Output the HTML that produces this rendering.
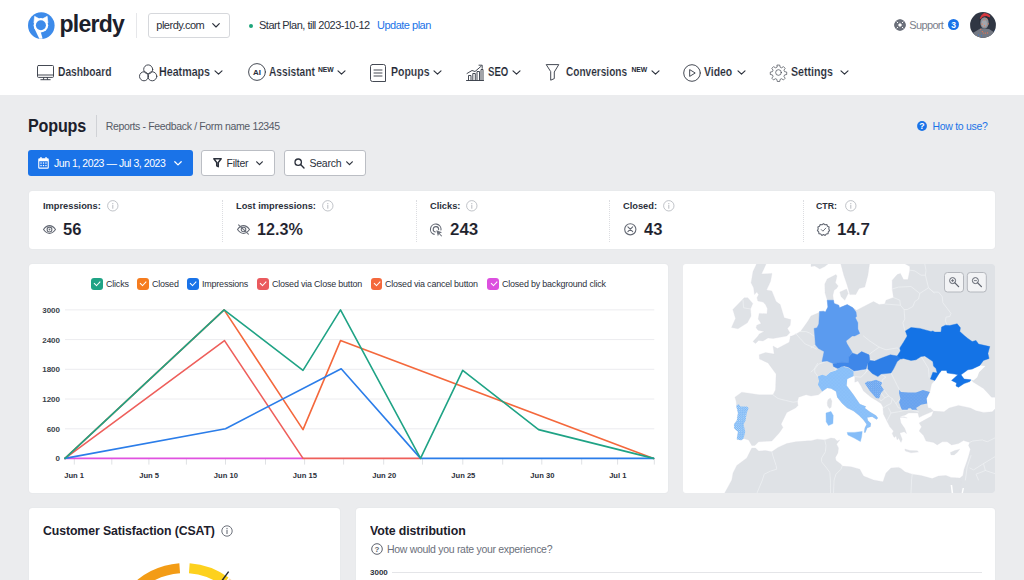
<!DOCTYPE html>
<html lang="en">
<head>
<meta charset="utf-8">
<title>Plerdy - Popups</title>
<style>
*{box-sizing:border-box;margin:0;padding:0}
html,body{width:1024px;height:580px;overflow:hidden;background:#ebecee;font-family:"Liberation Sans",Arial,sans-serif;color:#1f2532;-webkit-font-smoothing:antialiased}
.abs{position:absolute}
#top{position:absolute;left:0;top:0;width:1024px;height:95px;background:#fff}
.t{position:absolute;white-space:nowrap;line-height:1}
.nav{font-size:12px;font-weight:bold;color:#232834;letter-spacing:0;transform-origin:0 50%;-webkit-text-stroke:0.15px #fff}
.card{position:absolute;background:#fff;border-radius:3px;box-shadow:0 0 1px rgba(70,80,100,.13)}
svg{position:absolute;overflow:visible}
.ico{fill:none;stroke:#3b404b;stroke-width:0.95;stroke-linecap:round;stroke-linejoin:round}
.chev{fill:none;stroke:#2b303b;stroke-width:1.15;stroke-linecap:round;stroke-linejoin:round}

.dot{top:199.5px;width:0;height:42px;border-left:1px dotted #dcdde1}
.sl{top:200.7px;font-size:9.9px;font-weight:bold;color:#2b303b;letter-spacing:0;transform-origin:0 50%;transform:scaleX(0.94)}
.sv{top:222.3px;font-size:16px;font-weight:bold;color:#1c202b;letter-spacing:0;transform-origin:0 50%;transform:scaleX(1.035);-webkit-text-stroke:0.1px #fff}
.info circle{fill:none;stroke:#b9bcc2;stroke-width:0.9}
.info path{fill:none;stroke:#b9bcc2;stroke-width:1;stroke-linecap:round}

.cb{top:278px;width:11.6px;height:11.6px;border-radius:3px}
.cb:after{content:"";position:absolute;left:3.3px;top:3.1px;width:4.6px;height:2.5px;border-left:1.5px solid #fff;border-bottom:1.5px solid #fff;transform:rotate(-47deg)}
.lg{top:279px;font-size:9.5px;color:#2b303b;letter-spacing:-0.2px;transform-origin:0 50%;transform:scaleX(0.94)}
</style>
</head>
<body>
<div id="top">
  <!-- logo -->
  <svg style="left:28px;top:12px" width="27" height="27" viewBox="0 0 27 27">
    <circle cx="13.3" cy="13.6" r="13.3" fill="#3d8bea"/>
    <circle cx="12.9" cy="13.2" r="7.3" fill="#fff"/>
    <path d="M5.9 11 L6.6 4.3 L10.8 6.6 Z M19.9 11 L19.2 4.3 L15 6.6 Z" fill="#fff" stroke="#fff" stroke-width="0.6" stroke-linejoin="round"/>
    <path d="M6 15.5 L11.3 26.7 Q13 27 14.6 26.6 L12.3 18.5 Z" fill="#fff"/>
    <circle cx="12.9" cy="13.2" r="5" fill="#3d8bea"/>
  </svg>
  <div class="t" id="logo" style="left:59.5px;top:12.6px;font-size:23px;font-weight:bold;color:#1c202b;letter-spacing:-0.75px">plerdy</div>
  <div class="abs" style="left:136px;top:13px;width:1px;height:25px;background:#e6e7ea"></div>
  <!-- site select -->
  <div class="abs" style="left:148px;top:13px;width:82px;height:25px;border:1px solid #d6d8dc;border-radius:3px"></div>
  <div class="t" id="site" style="left:156.3px;top:20px;font-size:11px;color:#2b303b;letter-spacing:-0.5px">plerdy.com</div>
  <svg style="left:212px;top:23px" width="8" height="5" viewBox="0 0 8 5"><path class="chev" d="M0.7 0.7 L4 4 L7.3 0.7"/></svg>
  <div class="abs" style="left:249px;top:24px;width:4px;height:4px;border-radius:50%;background:#1da57a"></div>
  <div class="t" id="plan" style="left:259px;top:20px;font-size:11px;color:#2b303b;letter-spacing:-0.5px">Start Plan, till 2023-10-12</div>
  <div class="t" id="upd" style="left:377px;top:20px;font-size:11px;color:#1a73e8;letter-spacing:-0.5px">Update plan</div>
  <!-- support -->
  <svg style="left:893.5px;top:18.8px" width="12" height="12" viewBox="0 0 12 12">
    <circle cx="6" cy="6" r="3.8" fill="none" stroke="#6d727c" stroke-width="3.3"/>
    <path d="M1.6 1.6 L10.4 10.4 M10.4 1.6 L1.6 10.4" stroke="#fff" stroke-width="1"/>
    <circle cx="6" cy="6" r="5.3" fill="none" stroke="#646974" stroke-width="1.05"/>
    <circle cx="6" cy="6" r="2.3" fill="#fff" stroke="#646974" stroke-width="1.05"/>
  </svg>
  <div class="t" id="sup" style="left:909.3px;top:20px;font-size:11px;color:#7b808b;letter-spacing:-0.65px">Support</div>
  <div class="abs" style="left:948px;top:19px;width:11px;height:11px;border-radius:50%;background:#1a73e8"></div>
  <div class="t" style="left:948px;top:20.5px;width:11px;text-align:center;font-size:8.5px;font-weight:bold;color:#fff">3</div>
  <svg style="left:970px;top:11.5px" width="26" height="26" viewBox="0 0 26 26">
    <defs><clipPath id="av"><circle cx="13" cy="13" r="12.9"/></clipPath></defs>
    <g clip-path="url(#av)">
      <rect width="26" height="26" fill="#303643"/>
      <path d="M0.3 22.5 L10.7 16.3 L19 16.9 L25.2 21.1 L23.1 26 L3.8 26 Z" fill="#747984"/>
      <path d="M9.6 7.5 Q9.4 3.4 14.6 3 Q19.8 3.2 19.8 8 L19.4 13 L18 15 L11 15 L9.6 12 Z" fill="#262b36"/>
      <ellipse cx="14.5" cy="10.9" rx="4.2" ry="5.7" fill="#8d9199"/>
      <ellipse cx="14.3" cy="11.5" rx="2.6" ry="3.6" fill="#a3a6ad"/>
      <path d="M9.7 6.3 L11.4 3.2 L14.1 1.1 L17.6 1.8 L20.3 3.8 L19.7 5.4 L16.2 4 L12.8 4.7 L10.7 7 Z" fill="#d6363d"/>
      <g fill="#f0734f"><circle cx="14.1" cy="8" r="0.6"/><circle cx="16.6" cy="6.9" r="0.6"/><circle cx="18.3" cy="11.8" r="0.6"/><circle cx="14.5" cy="13.8" r="0.65"/><circle cx="12.1" cy="12.1" r="0.7"/><circle cx="10.7" cy="17.6" r="0.6"/><circle cx="12.4" cy="19.7" r="0.6"/><circle cx="13.8" cy="21.1" r="0.55"/><circle cx="15.5" cy="21.1" r="0.55"/><circle cx="17.6" cy="20.9" r="0.6"/></g>
      <g fill="#2b7de9"><circle cx="8.5" cy="23" r="0.6"/><circle cx="11.5" cy="23.8" r="0.6"/><circle cx="24.5" cy="19" r="0.5"/></g>
    </g>
  </svg>

  <!-- Dashboard -->
  <svg style="left:37px;top:65px" width="17" height="15" viewBox="0 0 17 15">
    <rect class="ico" x="0.5" y="0.5" width="16" height="11.9" rx="1"/>
    <path class="ico" d="M0.5 10 H16.5 M6.9 12.4 L6.4 14.4 M10.1 12.4 L10.6 14.4 M3.8 14.7 H13.2"/>
  </svg>
  <div class="t nav" id="n1" style="left:57.5px;top:66px;transform:scaleX(0.855)">Dashboard</div>
  <!-- Heatmaps -->
  <svg style="left:139px;top:64px" width="18" height="18" viewBox="0 0 18 18">
    <circle class="ico" cx="9.2" cy="5.4" r="4.5"/>
    <circle class="ico" cx="5" cy="12.3" r="4.5"/>
    <circle class="ico" cx="13.3" cy="12.3" r="4.5"/>
  </svg>
  <div class="t nav" id="n2" style="left:159.2px;top:66px;transform:scaleX(0.89)">Heatmaps</div>
  <svg style="left:214px;top:70px" width="9" height="5" viewBox="0 0 9 5"><path class="chev" d="M1 0.8 L4.5 4.2 L8 0.8"/></svg>
  <!-- Assistant -->
  <svg style="left:248px;top:63px" width="18" height="18" viewBox="0 0 18 18">
    <circle class="ico" cx="9" cy="9" r="8.4"/>
    <text x="9.1" y="11.9" text-anchor="middle" font-family="Liberation Sans,Arial,sans-serif" font-size="8" font-weight="bold" fill="#2b303b" letter-spacing="0.2">AI</text>
  </svg>
  <div class="t nav" id="n3" style="left:269px;top:66px;transform:scaleX(0.85)">Assistant</div>
  <div class="t" id="new1" style="left:318px;top:66.5px;font-size:6.8px;font-weight:bold;color:#232834;letter-spacing:-0.15px">NEW</div>
  <svg style="left:337px;top:70px" width="9" height="5" viewBox="0 0 9 5"><path class="chev" d="M1 0.8 L4.5 4.2 L8 0.8"/></svg>
  <!-- Popups -->
  <svg style="left:370px;top:64px" width="16" height="18" viewBox="0 0 16 18">
    <path class="ico" d="M2.5 0.5 H13.5 Q15.5 0.5 15.5 2.5 V17.5 H2.5 Q0.5 17.5 0.5 15.5 V2.5 Q0.5 0.5 2.5 0.5 Z"/>
    <path class="ico" d="M4 6 H12 M4 9 H12 M4 12 H12"/>
  </svg>
  <div class="t nav" id="n4" style="left:391.2px;top:66px;transform:scaleX(0.875)">Popups</div>
  <svg style="left:433px;top:70px" width="9" height="5" viewBox="0 0 9 5"><path class="chev" d="M1 0.8 L4.5 4.2 L8 0.8"/></svg>
  <!-- SEO -->
  <svg style="left:466px;top:64px" width="18" height="17" viewBox="0 0 18 17">
    <path class="ico" d="M0.5 16.5 H17.5 M2.5 16.5 V11.5 H5 V16.5 M6.8 16.5 V9.5 H9.3 V16.5 M11 16.5 V7.5 H13.5 V16.5 M15 16.5 V5.5 H17 V16.5" stroke-width="0.7"/>
    <path class="ico" d="M1 9.5 L6 6.5 L9 7.5 L15.2 2.2 M13 1.2 H16.2 V4.4" stroke-width="0.9"/>
  </svg>
  <div class="t nav" id="n5" style="left:487.8px;top:66px;transform:scaleX(0.8)">SEO</div>
  <svg style="left:512px;top:70px" width="9" height="5" viewBox="0 0 9 5"><path class="chev" d="M1 0.8 L4.5 4.2 L8 0.8"/></svg>
  <!-- Conversions -->
  <svg style="left:546.3px;top:64px" width="13.4" height="17" viewBox="0 0 13.4 17">
    <path class="ico" d="M0.6 0.6 H12.8 L8.3 8 V14.6 L4.7 16.2 V8 Z"/>
  </svg>
  <div class="t nav" id="n6" style="left:566px;top:66px;transform:scaleX(0.84)">Conversions</div>
  <div class="t" id="new2" style="left:631.5px;top:66.5px;font-size:6.8px;font-weight:bold;color:#232834;letter-spacing:-0.15px">NEW</div>
  <svg style="left:650.5px;top:70px" width="9" height="5" viewBox="0 0 9 5"><path class="chev" d="M1 0.8 L4.5 4.2 L8 0.8"/></svg>
  <!-- Video -->
  <svg style="left:683px;top:63.5px" width="18" height="18" viewBox="0 0 18 18">
    <circle class="ico" cx="9" cy="9" r="8.3"/>
    <path class="ico" d="M7 5.8 L12.2 9 L7 12.2 Z"/>
  </svg>
  <div class="t nav" id="n7" style="left:704.3px;top:66px;transform:scaleX(0.87)">Video</div>
  <svg style="left:737px;top:70px" width="9" height="5" viewBox="0 0 9 5"><path class="chev" d="M1 0.8 L4.5 4.2 L8 0.8"/></svg>
  <!-- Settings -->
  <svg style="left:769.8px;top:63.6px" width="17" height="17" viewBox="0 0 24 24">
    <circle class="ico" cx="12" cy="12" r="4" stroke-width="1.3"/>
    <path class="ico" stroke-width="1.3" d="M10.3 1.5 h3.4 l0.6 3 l2.1 0.9 l2.6 -1.7 l2.4 2.4 l-1.7 2.6 l0.9 2.1 l3 0.6 v3.4 l-3 0.6 l-0.9 2.1 l1.7 2.6 l-2.4 2.4 l-2.6 -1.7 l-2.1 0.9 l-0.6 3 h-3.4 l-0.6 -3 l-2.1 -0.9 l-2.6 1.7 l-2.4 -2.4 l1.7 -2.6 l-0.9 -2.1 l-3 -0.6 v-3.4 l3 -0.6 l0.9 -2.1 l-1.7 -2.6 l2.4 -2.4 l2.6 1.7 l2.1 -0.9 z"/>
  </svg>
  <div class="t nav" id="n8" style="left:791px;top:66px;transform:scaleX(0.885)">Settings</div>
  <svg style="left:840px;top:70px" width="9" height="5" viewBox="0 0 9 5"><path class="chev" d="M1 0.8 L4.5 4.2 L8 0.8"/></svg>

</div>

<!-- heading -->
<div class="t" id="h1" style="left:28.4px;top:116.9px;font-size:18px;font-weight:bold;color:#1c202b;letter-spacing:-0.2px;transform-origin:0 50%;transform:scaleX(0.895)">Popups</div>
<div class="abs" style="left:96px;top:114.5px;width:1px;height:22px;background:#d0d2d6"></div>
<div class="t" id="bc" style="left:105.7px;top:120.5px;font-size:10.5px;color:#555a66;letter-spacing:-0.35px">Reports - Feedback / Form name 12345</div>
<svg style="left:917.3px;top:120.8px" width="10" height="10" viewBox="0 0 10 10"><circle cx="5" cy="5" r="4.9" fill="#1a73e8"/><text x="5" y="8.2" text-anchor="middle" font-family="Liberation Sans,Arial,sans-serif" font-size="8.8" font-weight="bold" fill="#fff">?</text></svg>
<div class="t" id="how" style="left:932.5px;top:120.5px;font-size:10.5px;color:#1a73e8;letter-spacing:-0.3px">How to use?</div>
<!-- buttons -->
<div class="abs" style="left:28.3px;top:150px;width:164.5px;height:25.8px;background:#1a73e8;border-radius:3px"></div>
<svg style="left:38px;top:157px" width="11" height="12" viewBox="0 0 11 12">
  <path d="M1.5 1.3 H9.5 Q10.8 1.3 10.8 2.6 V10.4 Q10.8 11.7 9.5 11.7 H1.5 Q0.2 11.7 0.2 10.4 V2.6 Q0.2 1.3 1.5 1.3 Z M1.3 4.2 V10.2 Q1.3 10.6 1.7 10.6 H9.3 Q9.7 10.6 9.7 10.2 V4.2 Z" fill="#fff" fill-rule="evenodd"/>
  <rect x="2.3" y="0" width="1.3" height="2.4" rx="0.5" fill="#fff"/><rect x="7.4" y="0" width="1.3" height="2.4" rx="0.5" fill="#fff"/>
  <g fill="#fff"><rect x="2.4" y="5.4" width="1.3" height="1.3"/><rect x="4.85" y="5.4" width="1.3" height="1.3"/><rect x="7.3" y="5.4" width="1.3" height="1.3"/><rect x="2.4" y="7.9" width="1.3" height="1.3"/><rect x="4.85" y="7.9" width="1.3" height="1.3"/><rect x="7.3" y="7.9" width="1.3" height="1.3"/></g>
</svg>
<div class="t" id="date" style="left:54px;top:157.5px;font-size:10.5px;color:#fff;letter-spacing:-0.45px">Jun 1, 2023 — Jul 3, 2023</div>
<svg style="left:174px;top:160.5px" width="8" height="5" viewBox="0 0 8 5"><path d="M0.8 0.8 L4 3.9 L7.2 0.8" fill="none" stroke="#fff" stroke-width="1.3" stroke-linecap="round" stroke-linejoin="round"/></svg>

<div class="abs" style="left:201px;top:150px;width:74px;height:25.6px;background:#fff;border:1px solid #bbbec4;border-radius:3px"></div>
<svg style="left:213px;top:158px" width="9" height="10" viewBox="0 0 9 10"><path d="M0.8 0.8 H8.2 L5.3 4.5 V8.7 L3.7 7.8 V4.5 Z" fill="none" stroke="#2b303b" stroke-width="1.45" stroke-linejoin="round"/></svg>
<div class="t" id="flt" style="left:226.5px;top:157.5px;font-size:10.5px;color:#2b303b;letter-spacing:-0.25px">Filter</div>
<svg style="left:256px;top:160.5px" width="7" height="5" viewBox="0 0 7 5"><path d="M0.7 0.8 L3.5 3.7 L6.3 0.8" fill="none" stroke="#2b303b" stroke-width="1.2" stroke-linecap="round" stroke-linejoin="round"/></svg>

<div class="abs" style="left:283.5px;top:150px;width:82px;height:25.6px;background:#fff;border:1px solid #bbbec4;border-radius:3px"></div>
<svg style="left:294px;top:157.5px" width="11" height="11" viewBox="0 0 11 11"><circle cx="4.2" cy="4.2" r="3.2" fill="none" stroke="#2b303b" stroke-width="1.3"/><path d="M6.6 6.6 L10 10" stroke="#2b303b" stroke-width="1.4" stroke-linecap="round"/></svg>
<div class="t" id="srch" style="left:309.5px;top:157.5px;font-size:10.5px;color:#2b303b;letter-spacing:-0.25px">Search</div>
<svg style="left:346px;top:160.5px" width="7" height="5" viewBox="0 0 7 5"><path d="M0.7 0.8 L3.5 3.7 L6.3 0.8" fill="none" stroke="#2b303b" stroke-width="1.2" stroke-linecap="round" stroke-linejoin="round"/></svg>

<!-- stats -->
<div class="card" style="left:29px;top:191px;width:966px;height:58px"></div>
<div class="abs dot" style="left:222px"></div><div class="abs dot" style="left:415.5px"></div><div class="abs dot" style="left:609px"></div><div class="abs dot" style="left:802.5px"></div>

<div class="t sl" id="s1" style="left:43px">Impressions:</div>
<svg class="info" style="left:107.4px;top:199.8px" width="11.6" height="11.6" viewBox="0 0 11.6 11.6"><circle cx="5.8" cy="5.8" r="5.2"/><path d="M5.8 5.2 V8.3 M5.8 3.4 V3.7"/></svg>
<svg style="left:43px;top:225px" width="13" height="9" viewBox="0 0 13 9"><path d="M0.5 4.5 Q3.2 0.6 6.5 0.6 Q9.8 0.6 12.5 4.5 Q9.8 8.4 6.5 8.4 Q3.2 8.4 0.5 4.5 Z" fill="none" stroke="#646974" stroke-width="1.05"/><circle cx="6.5" cy="4.5" r="2.4" fill="none" stroke="#646974" stroke-width="1.05"/><circle cx="6.5" cy="4.5" r="0.9" fill="#6d727c"/></svg>
<div class="t sv" id="v1" style="left:63.4px">56</div>

<div class="t sl" id="s2" style="left:236.3px">Lost impressions:</div>
<svg class="info" style="left:322.4px;top:199.8px" width="11.6" height="11.6" viewBox="0 0 11.6 11.6"><circle cx="5.8" cy="5.8" r="5.2"/><path d="M5.8 5.2 V8.3 M5.8 3.4 V3.7"/></svg>
<svg style="left:237px;top:223.8px" width="13" height="11" viewBox="0 0 13 11"><path d="M0.5 5.5 Q3.2 1.6 6.5 1.6 Q9.8 1.6 12.5 5.5 Q9.8 9.4 6.5 9.4 Q3.2 9.4 0.5 5.5 Z" fill="none" stroke="#646974" stroke-width="1.05"/><circle cx="6.5" cy="5.5" r="2.3" fill="none" stroke="#646974" stroke-width="1.05"/><path d="M1.6 0.8 L11.4 10.2" stroke="#6d727c" stroke-width="1.1" stroke-linecap="round"/></svg>
<div class="t sv" id="v2" style="left:256.5px;transform:scaleX(1.01)">12.3%</div>

<div class="t sl" id="s3" style="left:429.7px">Clicks:</div>
<svg class="info" style="left:465.9px;top:199.8px" width="11.6" height="11.6" viewBox="0 0 11.6 11.6"><circle cx="5.8" cy="5.8" r="5.2"/><path d="M5.8 5.2 V8.3 M5.8 3.4 V3.7"/></svg>
<svg style="left:430px;top:223.5px" width="13" height="13" viewBox="0 0 13 13"><path d="M4.2 10.4 A5.3 5.3 0 1 1 11 6" fill="none" stroke="#646974" stroke-width="1.1" stroke-linecap="round"/><path d="M5.4 8 A2.7 2.7 0 1 1 8.6 5.6" fill="none" stroke="#646974" stroke-width="1.1" stroke-linecap="round"/><path d="M6.3 6.3 L12 8.3 L9.7 9.4 L12.2 12 L11.4 12.6 L9 10.1 L7.9 12.2 Z" fill="#6d727c"/></svg>
<div class="t sv" id="v3" style="left:450px;transform:scaleX(1.06)">243</div>

<div class="t sl" id="s4" style="left:623.2px">Closed:</div>
<svg class="info" style="left:662.9px;top:199.8px" width="11.6" height="11.6" viewBox="0 0 11.6 11.6"><circle cx="5.8" cy="5.8" r="5.2"/><path d="M5.8 5.2 V8.3 M5.8 3.4 V3.7"/></svg>
<svg style="left:624px;top:222.8px" width="13" height="13" viewBox="0 0 13 13"><circle cx="6.3" cy="6.3" r="5.6" fill="none" stroke="#646974" stroke-width="1.1"/><path d="M3.9 3.9 L8.7 8.7 M8.7 3.9 L3.9 8.7" stroke="#646974" stroke-width="1.1" stroke-linecap="round"/></svg>
<div class="t sv" id="v4" style="left:643.5px">43</div>

<div class="t sl" id="s5" style="left:816.3px;transform:scaleX(0.89)">CTR:</div>
<svg class="info" style="left:845.4px;top:199.8px" width="11.6" height="11.6" viewBox="0 0 11.6 11.6"><circle cx="5.8" cy="5.8" r="5.2"/><path d="M5.8 5.2 V8.3 M5.8 3.4 V3.7"/></svg>
<svg style="left:817px;top:223px" width="13" height="13" viewBox="0 0 13 13"><path d="M6.5 0.6 L8 1.7 L9.8 1.5 L10.5 3.2 L12.1 4.1 L11.8 5.9 L12.6 7.5 L11.3 8.8 L11.1 10.6 L9.3 11 L8.1 12.4 L6.5 11.6 L4.9 12.4 L3.7 11 L1.9 10.6 L1.7 8.8 L0.4 7.5 L1.2 5.9 L0.9 4.1 L2.5 3.2 L3.2 1.5 L5 1.7 Z" fill="none" stroke="#646974" stroke-width="1.1" stroke-linejoin="round"/><path d="M4.3 6.6 L5.9 8.2 L8.8 5.1" fill="none" stroke="#6d727c" stroke-width="1" stroke-linecap="round" stroke-linejoin="round"/></svg>
<div class="t sv" id="v5" style="left:837px;transform:scaleX(1.06)">14.7</div>

<div class="card" style="left:29px;top:264px;width:639px;height:229px"></div>
<svg style="left:0;top:0" width="1024" height="580" viewBox="0 0 1024 580">
  <g stroke="#ececef" stroke-width="1" fill="none">
    <path d="M65 309.9 H654.3 M65 339.6 H654.3 M65 369.3 H654.3 M65 399 H654.3 M65 428.8 H654.3"/>
  </g>
  <path d="M65 458.5 H654.3" stroke="#d9dbdf" stroke-width="1"/>
  <g stroke="#dfe1e4" stroke-width="1">
    <path d="M74.3 459 V464.6 M111.8 459 V464.6 M148.9 459 V464.6 M186.4 459 V464.6 M225.5 459 V464.6 M265.5 459 V464.6 M304.6 459 V464.6 M343.6 459 V464.6 M383.7 459 V464.6 M422.5 459 V464.6 M462.8 459 V464.6 M502.7 459 V464.6 M541.8 459 V464.6 M581.7 459 V464.6 M617.6 459 V464.6 M654.3 459 V464.6"/>
  </g>
  <g fill="none" stroke-width="1.6" stroke-linejoin="round" stroke-linecap="round">
    <path d="M65 458.4 H303" stroke="#e052e0"/>
    <path d="M65 458.4 L224.5 340.6 L303 458.4 H420.5" stroke="#ee5f5b"/>
    <path d="M65 458.4 L224.1 309.9 L303 429.6 L340.5 340.6 L653.6 458.4" stroke="#f4683c"/>
    <path d="M65 458.4 L225.5 428.7 L341.2 368.7 L420.5 458.4 H653.6" stroke="#2b7de9"/>
    <path d="M65 458.4 L224.1 309.9 L303 370.3 L340.5 309.9 L420.5 458.4 L462.7 370.3 L538.6 429.6 L653.6 458.4" stroke="#1fa385"/>
  </g>
  <g font-family="Liberation Sans,Arial,sans-serif" font-size="8" font-weight="bold" fill="#3a3f4a" text-anchor="end">
    <text x="60" y="312.8">3000</text><text x="60" y="342.5">2400</text><text x="60" y="372.2">1800</text><text x="60" y="401.9">1200</text><text x="60" y="431.7">600</text><text x="60" y="461.3">0</text>
  </g>
  <g font-family="Liberation Sans,Arial,sans-serif" font-size="7.6" font-weight="bold" fill="#2b303b" text-anchor="middle">
    <text x="74.1" y="477.8">Jun 1</text><text x="149.1" y="477.8">Jun 5</text><text x="225.9" y="477.8">Jun 10</text><text x="304.9" y="477.8">Jun 15</text><text x="384.2" y="477.8">Jun 20</text><text x="463.3" y="477.8">Jun 25</text><text x="542.4" y="477.8">Jun 30</text><text x="617.8" y="477.8">Jul 1</text>
  </g>
</svg>
<div class="abs cb" style="left:91px;background:#1fa385"></div><div class="t lg" id="l1" style="left:105.5px">Clicks</div>
<div class="abs cb" style="left:137px;background:#f57c1f"></div><div class="t lg" id="l2" style="left:151.5px">Closed</div>
<div class="abs cb" style="left:187px;background:#1a73e8"></div><div class="t lg" id="l3" style="left:201.5px">Impressions</div>
<div class="abs cb" style="left:257.2px;background:#ea5a5e"></div><div class="t lg" id="l4" style="left:271.8px">Closed via Close button</div>
<div class="abs cb" style="left:370.5px;background:#f4683c"></div><div class="t lg" id="l5" style="left:385px">Closed via cancel button</div>
<div class="abs cb" style="left:487.3px;background:#dc50df"></div><div class="t lg" id="l6" style="left:501.5px">Closed by background click</div>

<!-- MAPSTART -->
<svg style="left:0;top:0" width="1024" height="580" viewBox="0 0 1024 580">
<defs><clipPath id="mapclip"><rect x="683" y="264" width="312" height="229" rx="3"/></clipPath>
<pattern id="pit" width="3.4" height="3.4" patternUnits="userSpaceOnUse"><rect width="3.4" height="3.4" fill="#8cc2fa"/><circle cx="0.85" cy="0.85" r="0.5" fill="#7fb3f3"/><circle cx="2.55" cy="2.55" r="0.5" fill="#7fb3f3"/></pattern>
<pattern id="pba" width="2.2" height="2.2" patternUnits="userSpaceOnUse"><rect width="2.2" height="2.2" fill="#62a1ef"/><circle cx="0.55" cy="0.55" r="0.5" fill="#a5c8f6"/><circle cx="1.6500000000000001" cy="1.6500000000000001" r="0.5" fill="#a5c8f6"/></pattern>
<pattern id="pbg" width="3.2" height="3.2" patternUnits="userSpaceOnUse"><rect width="3.2" height="3.2" fill="#69a3ef"/><circle cx="0.8" cy="0.8" r="0.4" fill="#8bb8f3"/><circle cx="2.4000000000000004" cy="2.4000000000000004" r="0.4" fill="#8bb8f3"/></pattern>
<pattern id="ppt" width="2.2" height="2.2" patternUnits="userSpaceOnUse"><rect width="2.2" height="2.2" fill="#6eb1f6"/><circle cx="0.55" cy="0.55" r="0.55" fill="#d6e9fc"/><circle cx="1.6500000000000001" cy="1.6500000000000001" r="0.55" fill="#d6e9fc"/></pattern>
</defs>
<g clip-path="url(#mapclip)">
<rect x="683" y="264" width="312" height="229" fill="#fff"/>
<g fill="#dfe2e6" stroke="#dfe2e6" stroke-width="0.3" stroke-linejoin="round">
<path d="M756.5 264.0 L753.0 271.5 L751.1 282.8 L753.6 287.8 L754.5 294.6 L756.8 292.1 L758.6 294.6 L757.0 297.8 L757.8 300.9 L763.0 302.1 L765.5 304.6 L767.4 308.4 L767.0 313.8 L759.2 313.4 L758.2 319.0 L761.1 323.4 L756.8 325.2 L756.1 327.8 L758.0 330.2 L764.2 331.5 L759.2 334.0 L758.0 336.0 L753.0 341.6 L755.5 343.5 L758.6 340.4 L763.0 341.0 L768.0 337.9 L773.0 338.5 L786.8 336.0 L789.9 332.8 L787.4 328.4 L790.2 325.2 L790.8 319.6 L784.2 317.8 L780.2 304.6 L776.1 301.5 L771.8 290.9 L766.5 290.0 L770.5 281.5 L772.0 273.4 L761.5 274.0 L766.1 264.0 Z"/>
<path d="M744.2 297.8 L747.8 297.8 L752.8 303.4 L750.5 309.0 L751.1 315.9 L747.4 322.8 L738.0 328.8 L731.5 327.5 L735.5 318.4 L732.8 309.6 Z"/>
<path d="M811.0 264.0 L827.9 264.0 L824.8 266.5 L819.8 269.0 L814.8 265.9 L811.0 266.5 Z"/>
<path d="M840.8 264.0 L843.8 275.2 L847.2 285.2 L849.8 294.6 L855.8 294.6 L859.1 288.4 L864.8 287.1 L867.9 275.2 L869.5 264.0 Z"/>
<path d="M839.8 292.1 L846.6 289.0 L848.2 293.4 L844.8 300.2 L841.0 296.5 Z"/>
<path d="M827.9 399.8 L830.4 397.9 L831.9 401.0 L831.2 407.2 L829.5 408.5 L827.6 406.0 L827.2 402.9 Z"/>
<path d="M904.8 449.0 L909.8 450.5 L917.2 450.8 L918.5 452.0 L911.0 452.8 L905.4 451.1 Z"/>
<path d="M950.4 452.4 L954.8 450.5 L959.8 449.2 L957.2 452.4 L954.1 454.9 L951.0 454.9 Z"/>
<path d="M791.8 336.0 L796.1 334.0 L800.5 331.5 L806.8 322.8 L808.0 320.9 L811.0 315.9 L818.5 312.8 L819.5 311.5 L823.5 311.2 L825.4 312.1 L827.9 307.1 L827.2 300.2 L825.0 292.8 L824.8 284.0 L827.2 279.0 L836.0 274.6 L837.0 275.9 L835.4 282.8 L838.2 285.9 L836.6 288.4 L834.1 290.2 L832.9 295.2 L833.5 300.2 L834.1 303.4 L838.8 305.2 L839.5 307.8 L847.2 304.6 L852.9 307.8 L856.6 310.2 L873.5 301.5 L879.1 304.6 L884.8 304.0 L886.0 300.2 L893.5 297.5 L892.2 289.0 L892.2 280.2 L897.2 274.6 L900.4 273.4 L903.5 279.6 L907.9 279.6 L909.8 270.2 L909.8 266.5 L905.4 264.0 L995.0 264.0 L995.0 397.2 L991.6 397.2 L983.5 388.5 L973.5 382.2 L971.0 379.8 L969.8 381.6 L964.1 383.5 L958.5 387.2 L956.0 386.0 L956.6 382.9 L951.6 380.4 L957.9 374.8 L954.8 374.1 L947.2 372.9 L946.6 370.4 L941.6 370.4 L939.1 373.5 L934.8 380.4 L931.6 384.1 L929.8 392.2 L926.6 398.5 L927.2 403.5 L928.2 408.0 L930.4 408.0 L933.5 411.1 L922.9 415.5 L919.1 417.4 L917.9 413.0 L908.5 413.0 L905.4 414.9 L899.8 416.8 L907.2 418.0 L904.1 416.8 L899.8 417.4 L901.0 423.0 L904.8 428.6 L906.6 433.6 L904.1 431.8 L899.8 433.0 L902.2 439.2 L901.0 442.4 L898.5 438.0 L897.2 439.9 L896.0 436.1 L894.1 437.4 L892.2 433.6 L893.5 431.1 L889.8 426.8 L886.0 419.2 L883.5 414.2 L882.9 408.0 L883.5 408.0 L881.0 403.5 L877.2 401.0 L871.0 397.2 L863.5 391.0 L861.0 386.0 L857.9 381.0 L854.8 382.2 L854.8 376.6 L853.5 376.0 L847.2 379.1 L846.6 385.4 L853.5 394.8 L859.8 404.1 L866.0 406.6 L864.8 408.0 L864.8 408.0 L869.8 411.8 L876.0 415.5 L877.9 418.0 L876.6 419.5 L872.2 416.8 L867.2 417.4 L867.9 420.5 L871.0 423.6 L870.4 426.8 L867.2 428.0 L865.4 432.4 L864.1 432.4 L864.8 428.0 L866.6 424.2 L863.5 419.9 L859.1 415.5 L853.5 411.1 L847.2 408.0 L847.2 408.0 L842.2 403.5 L837.2 397.2 L836.0 391.6 L831.0 388.5 L827.2 387.9 L822.2 391.6 L818.5 394.8 L811.0 396.0 L806.1 394.8 L798.6 397.2 L797.4 401.6 L798.0 405.4 L795.5 408.0 L786.8 412.4 L781.1 424.2 L783.0 427.4 L779.2 433.0 L771.8 441.1 L758.6 441.8 L754.9 445.5 L751.8 445.5 L748.6 439.9 L743.6 438.6 L741.1 440.2 L736.8 439.2 L738.0 431.8 L734.2 428.6 L734.0 424.2 L736.8 420.5 L738.0 413.0 L736.8 408.0 L736.1 401.0 L734.9 397.2 L741.8 392.2 L759.2 394.8 L773.0 394.8 L775.5 389.8 L776.1 374.1 L768.0 362.9 L759.5 359.1 L759.2 354.8 L765.5 352.5 L774.2 354.1 L773.0 346.0 L777.4 348.5 L789.2 342.2 L790.5 336.0 Z"/>
<path d="M933.5 411.1 L944.1 411.8 L949.1 408.0 L958.5 405.4 L970.4 408.0 L976.0 410.8 L983.5 412.4 L992.2 411.8 L994.8 409.2 L995.0 409.0 L995.0 493.0 L960.0 493.0 L959.7 478.3 L962.9 475.5 L964.1 469.2 L967.2 460.5 L969.1 454.2 L970.4 449.2 L968.5 445.5 L969.8 442.4 L963.5 440.5 L958.5 443.6 L951.6 444.9 L947.2 441.8 L942.2 441.8 L937.2 444.9 L933.5 442.4 L926.0 441.1 L923.5 435.5 L919.1 431.1 L921.6 426.8 L919.1 423.0 L931.6 416.1 Z"/>
<path d="M724.7 493.0 L731.8 480.0 L733.0 473.0 L736.8 465.5 L746.8 458.0 L749.9 451.8 L751.8 448.0 L755.5 448.0 L758.6 451.1 L765.5 450.5 L771.8 451.8 L778.0 447.4 L786.8 443.6 L795.5 441.8 L808.0 440.8 L811.0 440.8 L817.2 439.2 L824.8 439.9 L831.0 438.0 L834.8 438.6 L837.2 441.1 L839.8 439.9 L836.6 444.2 L838.5 448.0 L837.9 453.0 L835.4 457.4 L836.0 460.5 L841.0 464.2 L842.2 466.1 L851.0 466.8 L859.8 469.2 L863.5 476.1 L873.5 480.0 L883.0 481.7 L886.0 473.0 L891.0 468.0 L898.5 467.4 L901.0 468.6 L904.8 471.8 L912.2 474.2 L921.0 475.5 L932.2 478.6 L938.5 476.1 L946.0 475.5 L951.0 477.4 L959.8 478.0 L961.0 480.0 L960.0 493.0 Z"/>
</g>
<g fill="#fff">
<path d="M961.0 374.8 L967.9 369.8 L972.2 369.1 L979.8 365.4 L985.4 366.0 L979.1 372.2 L977.2 377.2 L973.5 380.4 L971.0 379.8 L964.1 379.1 Z"/>
<path d="M950.6 485.0 L952.2 485.0 L953.2 493.0 L951.6 493.0 Z"/>
<path d="M962.6 488.0 L964.0 488.0 L963.0 493.0 L961.6 493.0 Z"/>
</g>
<g fill="none" stroke="#eef0f2" stroke-width="0.8" stroke-linejoin="round" stroke-linecap="round">
<path d="M743.0 300.2 L743.6 307.8 L750.5 309.0"/>
<path d="M773.0 394.8 L778.0 398.5 L785.5 400.4 L793.0 402.2 L797.4 401.6"/>
<path d="M771.8 451.8 L773.6 458.0 L776.1 465.5 L776.8 469.2 L770.5 471.1 L764.2 474.2 L762.4 480.0 L757.0 493.0"/>
<path d="M824.8 439.9 L826.0 445.5 L825.4 451.8 L821.6 458.0 L821.6 461.8 L826.6 468.0 L829.8 472.4 L830.4 480.0 L830.5 493.0"/>
<path d="M842.2 466.1 L841.0 469.2 L836.0 474.2 L834.1 480.0 L833.5 493.0"/>
<path d="M912.2 474.2 L911.6 480.0 L911.0 493.0"/>
<path d="M884.8 304.0 L900.4 305.2"/>
<path d="M893.5 297.5 L899.8 300.2 L900.4 305.2 L904.1 309.6"/>
<path d="M892.2 289.0 L898.5 287.1 L911.0 286.5 L919.8 293.4 L918.5 299.0 L914.8 301.5 L912.9 306.5 L907.2 309.6 L904.1 309.6"/>
<path d="M909.8 270.2 L914.8 270.9 L921.0 275.2 L925.4 275.2 L928.5 287.8 L919.8 293.4"/>
<path d="M925.4 275.2 L926.0 270.2 L924.8 264.0"/>
<path d="M929.1 288.4 L933.5 292.1 L938.5 292.1 L942.2 296.5 L942.9 302.8 L951.0 313.4 L949.8 316.5 L946.0 317.1 L945.4 320.9 L947.2 325.2"/>
<path d="M928.5 287.8 L934.1 292.8"/>
<path d="M904.1 310.2 L904.8 319.0 L902.9 322.8 L904.8 330.2"/>
<path d="M856.6 316.5 L855.4 317.8 L857.9 322.8 L857.9 329.0 L859.8 333.4"/>
<path d="M863.5 336.0 L869.8 341.0 L879.1 347.2 L886.0 349.8 L897.2 347.9 L900.4 351.0"/>
<path d="M861.6 351.6 L869.1 354.8 L871.0 352.9 L879.1 347.2"/>
<path d="M869.8 360.4 L871.0 359.1 L874.8 361.0"/>
<path d="M921.6 357.2 L928.5 368.5 L929.1 377.2"/>
<path d="M891.0 372.9 L897.2 385.4 L899.1 389.1"/>
<path d="M854.1 371.6 L866.0 369.5 L867.9 369.8 L864.8 373.5 L861.0 377.2 L854.8 376.6"/>
<path d="M864.8 373.5 L867.9 369.1"/>
<path d="M881.0 374.1 L886.0 377.2 L882.2 379.8 L882.2 382.5"/>
<path d="M883.8 389.8 L888.5 396.0 L884.8 397.9 L881.0 392.9"/>
<path d="M879.1 398.5 L881.0 401.0 L884.8 397.9"/>
<path d="M888.5 396.0 L892.2 398.5 L896.0 403.5 L900.4 398.5"/>
<path d="M892.2 398.5 L891.0 403.5 L886.0 406.0 L883.5 408.0"/>
<path d="M896.0 403.5 L898.5 408.0 L898.5 408.0 L904.1 408.0"/>
<path d="M888.5 408.0 L891.0 413.0 L887.2 420.5"/>
<path d="M891.0 413.0 L898.5 411.8 L904.1 410.5 L911.0 409.9 L918.5 411.8"/>
<path d="M969.8 442.4 L972.2 441.1 L982.2 439.9 L987.2 441.8 L994.8 438.0"/>
<path d="M971.0 455.5 L967.2 466.8 L965.4 480.0"/>
<path d="M969.8 468.0 L973.5 469.9 L983.5 463.6 L994.8 456.8"/>
<path d="M983.5 463.6 L985.4 470.5 L976.0 474.2 L978.5 480.0"/>
<path d="M985.4 470.5 L994.8 473.6"/>
<path d="M814.8 369.1 L818.5 364.1 L826.0 361.6 L827.2 361.0"/>
<path d="M814.8 369.1 L814.8 372.2 L817.9 376.6"/>
<path d="M826.0 376.0 L830.4 372.2 L836.0 370.4 L833.5 366.6"/>
<path d="M811.0 347.9 L815.4 344.8"/>
<path d="M795.9 333.7 L800.2 338.5 L805.2 344.0 L812.6 347.1 L816.3 349.0"/>
<path d="M800.2 331.6 L805.8 331.6 L809.5 332.9 L813.9 336.0"/>
<path d="M817.6 363.3 L813.9 369.5 L811.0 372.0"/>
</g>
<path d="M827.2 300.2 L833.5 300.2 L834.1 303.4 L838.8 305.2 L839.5 307.8 L847.2 304.6 L852.9 307.8 L856.0 312.1 L856.6 316.5 L855.4 317.8 L857.9 322.8 L857.9 329.0 L859.8 333.4 L854.8 336.0 L852.2 336.0 L846.0 341.0 L847.2 344.1 L852.2 352.2 L849.1 356.6 L848.5 362.9 L841.6 362.2 L833.5 363.8 L827.2 361.0 L822.0 361.6 L824.1 351.6 L818.5 348.5 L815.4 344.8 L814.8 336.0 L814.1 328.4 L817.0 327.8 L818.8 324.0 L819.5 311.5 L823.5 311.2 L825.4 312.1 L827.9 307.1 Z" fill="#5b9bef" stroke="#5b9bef" stroke-width="0.4" stroke-linejoin="round"/>
<path d="M832.9 364.1 L833.5 366.6 L837.9 368.5 L844.1 366.0 L848.5 367.2 L854.1 371.0 L866.0 369.1 L867.9 362.9 L869.8 360.4 L869.1 354.8 L861.6 351.6 L857.2 354.8 L852.2 352.9 L849.1 356.6 L848.5 362.9 L841.6 362.2 L833.5 363.8 Z" fill="#3f87e9" stroke="#3f87e9" stroke-width="0.4" stroke-linejoin="round"/>
<path d="M869.8 360.4 L874.8 361.0 L880.4 358.5 L890.4 354.8 L897.2 356.0 L901.0 358.5 L897.2 361.6 L893.5 369.1 L891.0 372.9 L881.0 374.1 L877.9 376.6 L872.2 373.5 L867.9 369.1 L867.9 362.9 Z" fill="#2d7ee7" stroke="#2d7ee7" stroke-width="0.4" stroke-linejoin="round"/>
<path d="M905.4 330.9 L911.0 327.5 L919.8 328.4 L931.0 331.5 L932.9 330.9 L934.8 332.1 L941.0 332.1 L941.6 327.1 L945.4 325.2 L949.8 325.5 L957.2 323.8 L960.4 327.8 L959.8 331.5 L964.8 336.0 L967.9 338.5 L972.2 341.6 L976.0 340.4 L978.5 344.1 L989.8 346.6 L987.9 353.5 L989.1 358.5 L983.5 360.4 L979.8 365.4 L972.2 369.1 L967.9 369.8 L961.0 374.8 L964.1 379.1 L971.0 379.8 L969.8 381.6 L964.1 383.5 L958.5 387.2 L956.0 386.0 L956.6 382.9 L951.6 380.4 L957.9 374.8 L954.8 374.1 L947.2 372.9 L946.6 370.4 L941.6 370.4 L939.1 373.5 L934.8 380.4 L930.4 379.1 L932.9 372.2 L937.2 372.9 L936.0 368.5 L933.5 366.0 L932.9 361.6 L928.5 358.5 L924.8 356.0 L921.0 356.6 L916.0 359.8 L911.0 360.4 L903.5 358.5 L901.0 359.1 L897.2 356.0 L900.4 351.0 L899.8 347.9 L903.5 342.2 L907.2 336.0 Z" fill="#1473e6" stroke="#1473e6" stroke-width="0.4" stroke-linejoin="round"/>
<path d="M899.1 389.8 L901.0 392.0 L908.5 392.5 L916.0 392.5 L922.9 390.0 L929.8 392.0 L926.6 398.5 L927.2 403.5 L921.0 404.8 L916.0 408.0 L917.5 409.8 L912.0 409.8 L910.8 408.2 L908.5 408.2 L907.5 409.8 L902.0 409.8 L901.0 408.0 L899.1 402.2 L900.4 398.5 L899.1 393.5 Z" fill="url(#pbg)" stroke="none" stroke-width="0.4" stroke-linejoin="round"/>
<path d="M864.8 383.2 L867.2 381.6 L871.0 381.2 L876.0 379.8 L882.2 382.5 L881.0 385.4 L883.8 389.8 L881.0 392.9 L879.1 398.5 L876.0 397.9 L869.8 391.0 Z" fill="url(#pba)" stroke="none" stroke-width="0.4" stroke-linejoin="round"/>
<path d="M817.9 376.6 L822.2 374.8 L826.0 376.0 L830.4 372.2 L836.0 370.4 L841.6 366.6 L848.5 367.9 L853.5 371.6 L853.5 376.0 L847.2 379.1 L846.6 385.4 L853.5 394.8 L859.8 404.1 L866.0 406.6 L864.8 408.0 L864.8 408.0 L869.8 411.8 L876.0 415.5 L877.9 418.0 L876.6 419.5 L872.2 416.8 L867.2 417.4 L867.9 420.5 L871.0 423.6 L870.4 426.8 L867.2 428.0 L865.4 432.4 L864.1 432.4 L864.8 428.0 L866.6 424.2 L863.5 419.9 L859.1 415.5 L853.5 411.1 L847.2 408.0 L847.2 408.0 L842.2 403.5 L837.2 397.2 L836.0 391.6 L831.0 388.5 L827.2 387.9 L822.2 391.6 L817.9 384.8 L819.1 381.0 Z" fill="url(#pit)" stroke="none" stroke-width="0.4" stroke-linejoin="round"/>
<path d="M826.0 413.0 L831.0 411.5 L833.2 415.5 L832.9 423.6 L828.5 425.5 L826.2 421.8 Z" fill="#85bdf8" stroke="#85bdf8" stroke-width="0.4" stroke-linejoin="round"/>
<path d="M847.2 432.4 L854.1 432.4 L862.2 431.5 L861.6 436.8 L860.4 441.5 L854.1 438.0 L847.9 434.9 Z" fill="#85bdf8" stroke="#85bdf8" stroke-width="0.4" stroke-linejoin="round"/>
<path d="M736.1 406.0 L738.6 404.1 L740.5 406.6 L746.8 406.6 L748.6 408.0 L746.8 413.0 L745.5 420.5 L743.6 424.2 L745.2 431.8 L743.6 438.6 L741.1 440.2 L736.8 439.2 L738.0 431.8 L734.2 428.6 L734.0 424.2 L736.8 420.5 L738.0 413.0 L736.8 408.0 Z" fill="url(#ppt)" stroke="none" stroke-width="0.4" stroke-linejoin="round"/>
</g>
<rect x="944.5" y="272.5" width="19" height="19.5" rx="3" fill="#f2f3f5" stroke="#b4b7bd" stroke-width="1"/>
<circle cx="952.6" cy="280.6" r="3" fill="none" stroke="#5d626d" stroke-width="1"/>
<path d="M954.9 282.90000000000003 L958.6 286.6" stroke="#5d626d" stroke-width="1.3" stroke-linecap="round"/>
<path d="M951.1 280.6 H954.1" stroke="#5d626d" stroke-width="0.8"/>
<path d="M952.6 279.1 V282.1" stroke="#5d626d" stroke-width="0.8"/>
<rect x="967.3" y="272.5" width="19" height="19.5" rx="3" fill="#f2f3f5" stroke="#b4b7bd" stroke-width="1"/>
<circle cx="975.4" cy="280.6" r="3" fill="none" stroke="#5d626d" stroke-width="1"/>
<path d="M977.6999999999999 282.90000000000003 L981.4 286.6" stroke="#5d626d" stroke-width="1.3" stroke-linecap="round"/>
<path d="M973.9 280.6 H976.9" stroke="#5d626d" stroke-width="0.8"/>
</svg>
<!-- MAPEND -->

<div class="card" style="left:29px;top:508.2px;width:311.4px;height:80px"></div>
<div class="t" id="csat" style="left:42.5px;top:524px;font-size:13px;font-weight:bold;color:#1c202b;letter-spacing:-0.1px;transform-origin:0 50%;transform:scaleX(0.945)">Customer Satisfaction (CSAT)</div>
<svg style="left:220.5px;top:525px" width="12" height="12" viewBox="0 0 12 12"><circle cx="6" cy="6" r="5.2" fill="none" stroke="#5d626d" stroke-width="0.9"/><path d="M6 5.3 V8.6 M6 3.3 V3.8" stroke="#5d626d" stroke-width="1" stroke-linecap="round"/></svg>
<svg style="left:0;top:0" width="1024" height="580" viewBox="0 0 1024 580">
  <path d="M127.81 589.43 A74 74 0 0 1 179.34 563.18 L180.04 573.16 A64 64 0 0 0 135.47 595.86 Z" fill="#f39c16"/>
  <path d="M189.66 563.18 A74 74 0 0 1 228.52 577.51 L222.57 585.55 A64 64 0 0 0 188.96 573.16 Z" fill="#fdd11e"/>
  <path d="M229.55 578.29 A74 74 0 0 1 241.19 589.43 L233.53 595.86 A64 64 0 0 0 223.46 586.23 Z" fill="#fbdcc0"/>
  <path d="M228.6 571.6 L221 582" stroke="#1f2532" stroke-width="1.4"/>
</svg>
<div class="card" style="left:356.1px;top:508.2px;width:638.9px;height:80px"></div>
<div class="t" id="vote" style="left:370px;top:524px;font-size:13px;font-weight:bold;color:#1c202b;letter-spacing:-0.1px;transform-origin:0 50%;transform:scaleX(0.95)">Vote distribution</div>
<svg style="left:370.5px;top:543px" width="12" height="12" viewBox="0 0 12 12"><circle cx="6" cy="6" r="5.3" fill="none" stroke="#5d626d" stroke-width="1"/><text x="6" y="8.9" text-anchor="middle" font-family="Liberation Sans,Arial,sans-serif" font-size="8" font-weight="bold" fill="#5d626d">?</text></svg>
<div class="t" id="howr" style="left:387px;top:543.5px;font-size:10.5px;color:#6b707b;letter-spacing:-0.3px">How would you rate your experience?</div>
<div class="t" style="left:370px;top:568.5px;font-size:8px;font-weight:bold;color:#2b303b">3000</div>
<div class="abs" style="left:392px;top:572px;width:590px;height:1px;background:#e4e5e8"></div>

</body>
</html>
